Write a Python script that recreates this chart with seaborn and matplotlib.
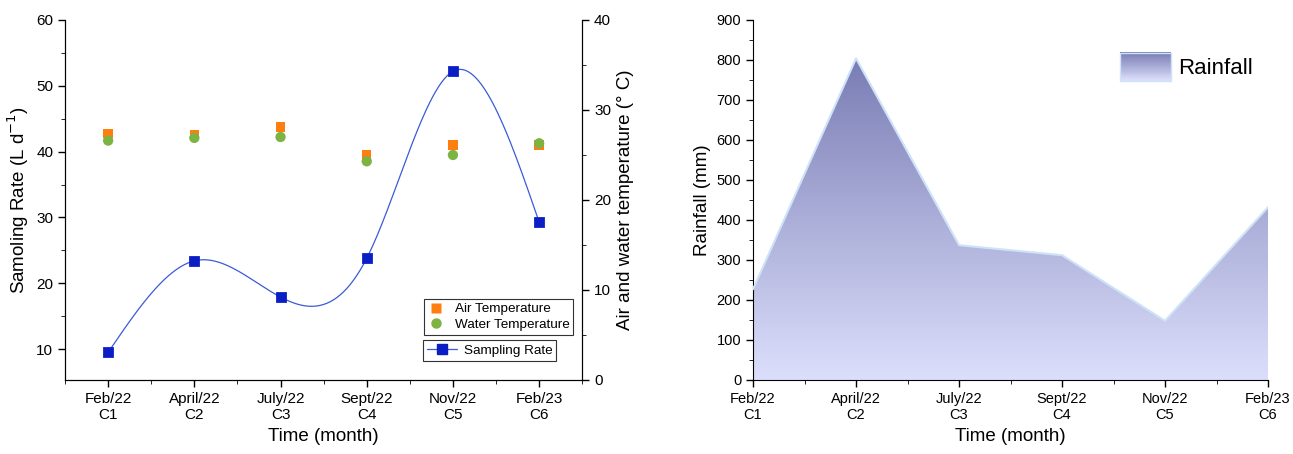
import numpy as np
import pandas as pd
import matplotlib
matplotlib.use("Agg")
import matplotlib.pyplot as plt
import seaborn as sns
from matplotlib.colors import LinearSegmentedColormap
from matplotlib.legend_handler import HandlerBase
from matplotlib.patches import Rectangle, Patch
from matplotlib.lines import Line2D
from matplotlib.ticker import MultipleLocator

# data
labels = ["Feb/22\nC1", "April/22\nC2", "July/22\nC3", "Sept/22\nC4", "Nov/22\nC5", "Feb/23\nC6"]
sampling_rate = [9.5, 23.4, 17.9, 23.8, 52.2, 29.3]
air_temp = [27.4, 27.3, 28.1, 25.0, 26.1, 26.1]
water_temp = [26.6, 26.9, 27.0, 24.3, 25.0, 26.3]
rainfall = [227, 804, 337, 312, 148, 432]

sns.set_style("ticks", {"axes.edgecolor": "black", "text.color": "black",
                        "axes.labelcolor": "black", "xtick.color": "black",
                        "ytick.color": "black"})
plt.rcParams["font.family"] = ["Liberation Sans", "DejaVu Sans"]

pos = np.arange(len(labels))
df = pd.DataFrame({"pos": pos, "rate": sampling_rate, "air": air_temp,
                   "water": water_temp, "rain": rainfall})


def natural_spline(x, y, xs):
    # natural cubic spline, just for drawing the smooth line
    x = np.asarray(x, float); y = np.asarray(y, float)
    n = len(x); h = np.diff(x)
    A = np.zeros((n, n)); r = np.zeros(n)
    A[0, 0] = A[-1, -1] = 1
    for i in range(1, n - 1):
        A[i, i - 1] = h[i - 1]; A[i, i] = 2 * (h[i - 1] + h[i]); A[i, i + 1] = h[i]
        r[i] = 6 * ((y[i + 1] - y[i]) / h[i] - (y[i] - y[i - 1]) / h[i - 1])
    M = np.linalg.solve(A, r)
    idx = np.clip(np.searchsorted(x, xs) - 1, 0, n - 2)
    x0, x1 = x[idx], x[idx + 1]; hh = x1 - x0
    return (M[idx] * (x1 - xs) ** 3 / (6 * hh) + M[idx + 1] * (xs - x0) ** 3 / (6 * hh)
            + (y[idx] / hh - M[idx] * hh / 6) * (x1 - xs)
            + (y[idx + 1] / hh - M[idx + 1] * hh / 6) * (xs - x0))


fig = plt.figure(figsize=(12.93, 4.54), dpi=100)
ax1 = fig.add_axes([0.0503, 0.163, 0.400, 0.793])
ax3 = fig.add_axes([0.5824, 0.163, 0.3983, 0.793])

# ---- left panel ----
blue_line = "#3b5bd6"
blue_mark = "#0a1ec4"
xs = np.linspace(0, 5, 400)
curve = pd.DataFrame({"x": xs, "y": natural_spline(pos, sampling_rate, xs)})
sns.lineplot(data=curve, x="x", y="y", ax=ax1, color=blue_line, lw=0.9)
sns.scatterplot(data=df, x="pos", y="rate", ax=ax1, marker="s", s=50,
                color=blue_mark, edgecolor=blue_mark, zorder=5)
ax1.set_xlim(-0.5, 5.5)
ax1.set_ylim(5.3, 60)
ax1.yaxis.set_major_locator(MultipleLocator(10))
ax1.yaxis.set_minor_locator(MultipleLocator(5))
ax1.set_yticks(range(10, 61, 10))
ax1.set_xticks(pos)
ax1.set_xticklabels(labels)
ax1.set_xticks(np.arange(-0.5, 5.6, 1), minor=True)
ax1.set_xlabel("Time (month)", fontsize=13.5)
ax1.set_ylabel("Samoling Rate (L d$^{-1}$)", fontsize=13.5)
ax1.spines["top"].set_visible(False)
ax1.tick_params(labelsize=11, length=5, width=1)
ax1.tick_params(which="minor", length=3)

ax2 = ax1.twinx()
sns.scatterplot(data=df, x="pos", y="air", ax=ax2, marker="s", s=45,
                color="#ff7f0e", edgecolor="none", zorder=3)
sns.scatterplot(data=df, x="pos", y="water", ax=ax2, marker="o", s=55,
                color="#7cb342", edgecolor="none", zorder=4)
ax2.set_ylim(0, 40)
ax2.yaxis.set_major_locator(MultipleLocator(10))
ax2.yaxis.set_minor_locator(MultipleLocator(5))
ax2.set_ylabel("Air and water temperature (° C)", fontsize=13.5)
ax2.spines["top"].set_visible(False)
ax2.tick_params(labelsize=11, length=5, width=1)
ax2.tick_params(which="minor", length=3)

h_air = Line2D([], [], ls="none", marker="s", ms=6.5, color="#ff7f0e", mec="none")
h_water = Line2D([], [], ls="none", marker="o", ms=7.5, color="#7cb342", mec="none")
h_rate = Line2D([], [], color=blue_line, lw=0.9, marker="s", ms=7,
                mfc=blue_mark, mec=blue_mark)
leg1 = ax2.legend([h_air, h_water], ["Air Temperature", "Water Temperature"],
                  loc="upper right", bbox_to_anchor=(0.983, 0.225), fontsize=9.7,
                  fancybox=False, edgecolor="#333333", framealpha=1,
                  handlelength=1.2, handletextpad=0.8, borderpad=0.3,
                  labelspacing=0.2, borderaxespad=0)
leg1.get_frame().set_linewidth(0.8)
ax2.add_artist(leg1)
leg2 = ax2.legend([h_rate], ["Sampling Rate"], loc="upper right",
                  bbox_to_anchor=(0.950, 0.11), fontsize=9.7, fancybox=False,
                  edgecolor="#333333", framealpha=1, handlelength=2.2,
                  handletextpad=0.5, borderpad=0.3, borderaxespad=0)
leg2.get_frame().set_linewidth(0.8)

# ---- right panel ----
cmap = LinearSegmentedColormap.from_list("rain", ["#dcdffb", "#7a7db4"])
sns.lineplot(data=df, x="pos", y="rain", ax=ax3, color="#cde3f8", lw=1.5, zorder=3)
poly = ax3.fill_between(df["pos"], df["rain"], 0, facecolor="none", edgecolor="none")
grad = ax3.imshow(np.linspace(0, 1, 256).reshape(-1, 1), cmap=cmap, origin="lower",
                  extent=[0, 5, 0, max(rainfall)], aspect="auto", zorder=2)
grad.set_clip_path(poly.get_paths()[0], transform=ax3.transData)
ax3.set_xlim(0, 5)
ax3.set_ylim(0, 900)
ax3.yaxis.set_major_locator(MultipleLocator(100))
ax3.yaxis.set_minor_locator(MultipleLocator(50))
ax3.set_xticks(pos)
ax3.set_xticklabels(labels)
ax3.set_xticks(np.arange(0.5, 5, 1), minor=True)
ax3.set_xlabel("Time (month)", fontsize=13.5)
ax3.set_ylabel("Rainfall (mm)", fontsize=13.5)
ax3.spines["top"].set_visible(False)
ax3.spines["right"].set_visible(False)
ax3.tick_params(labelsize=10.5, length=5, width=1)
ax3.tick_params(which="minor", length=3)


class GradientHandler(HandlerBase):
    def create_artists(self, legend, orig_handle, xdescent, ydescent,
                       width, height, fontsize, trans):
        arts = []
        n = 30
        for i in range(n):
            arts.append(Rectangle((-xdescent, -ydescent + height * i / n), width,
                                  height / n + 0.3, facecolor=cmap(i / (n - 1)),
                                  edgecolor="none", transform=trans))
        arts.append(Rectangle((-xdescent, -ydescent), width, height, facecolor="none",
                              edgecolor="#cde3f8", lw=1, transform=trans))
        return arts


leg3 = ax3.legend([Patch()], ["Rainfall"], handler_map={Patch: GradientHandler()},
                  loc="upper right", bbox_to_anchor=(1.01, 0.965), frameon=False,
                  fontsize=16, handlelength=2.3, handleheight=1.6, handletextpad=0.35)

fig.savefig("out.png", dpi=100)
